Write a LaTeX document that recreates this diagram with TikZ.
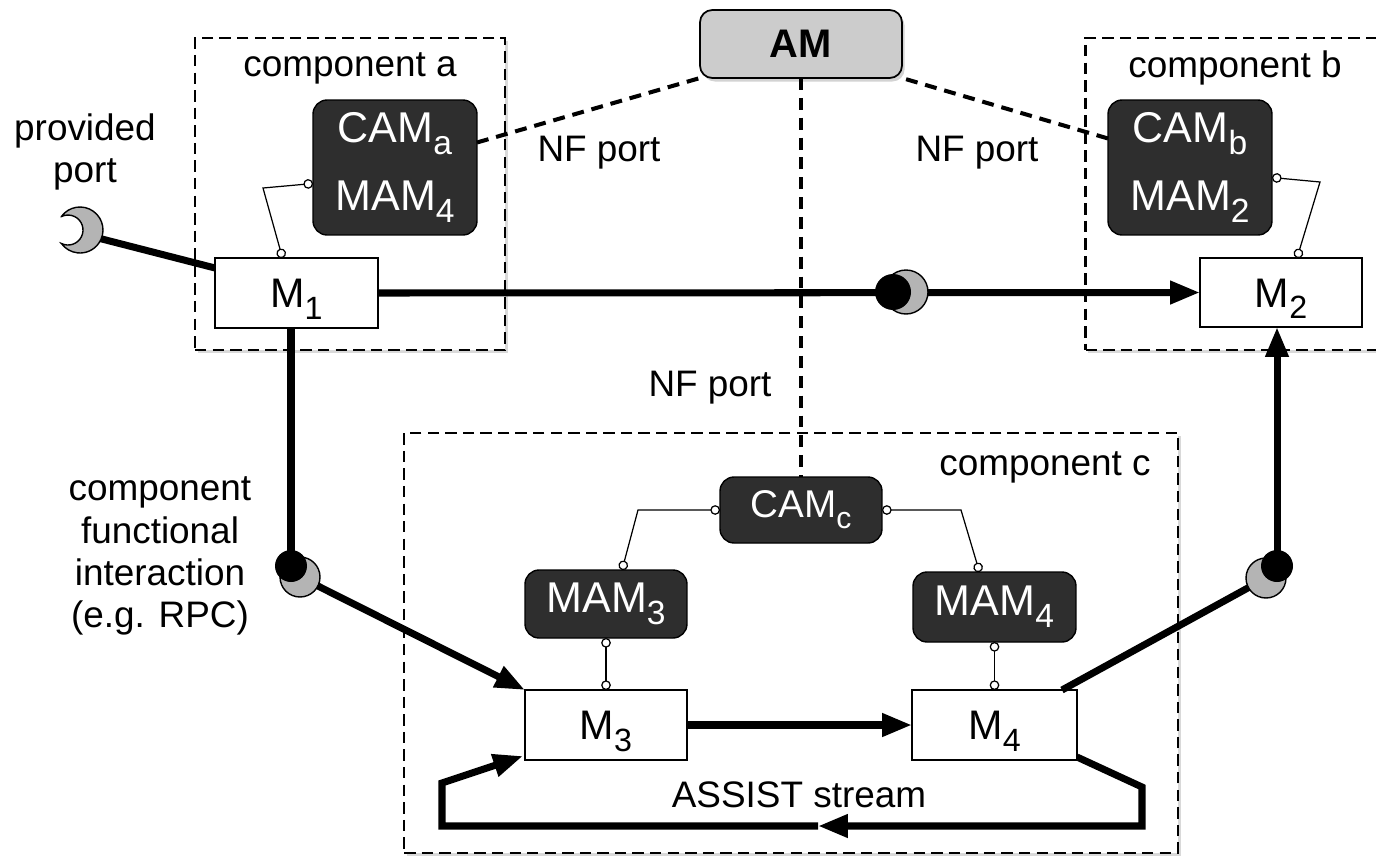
\documentclass[tikz,border=0pt]{standalone}
\usepackage{fontspec}
\setmainfont{Liberation Sans}
\usetikzlibrary{arrows.meta,calc,shadows}
\definecolor{darkfill}{HTML}{2E2E2E}
\definecolor{amfill}{HTML}{CCCCCC}
\definecolor{sockfill}{HTML}{B4B4B4}
\newcommand{\ssub}[1]{\raisebox{-0.28em}{\scalebox{0.78}{#1}}}
\begin{document}
\begin{tikzpicture}[x=0.02cm,y=-0.02cm,
  lbl/.style={font=\fontsize{21}{24}\selectfont, align=center, inner sep=0pt},
  compbox/.style={draw, dash pattern=on 6.5pt off 3.5pt, line width=1.3pt, fill=white,
    drop shadow={shadow xshift=1.5pt, shadow yshift=-1.5pt, opacity=0.3}, inner sep=0pt, outer sep=0pt},
  darkbox/.style={draw=black, fill=darkfill, rounded corners=8pt, text=white,
    font=\fontsize{24.5}{39}\selectfont, align=center, inner sep=0pt, outer sep=0pt, line width=0.8pt},
  modbox/.style={draw, fill=white, line width=0.9pt, font=\fontsize{23.5}{26}\selectfont,
    inner sep=0pt, outer sep=0pt, text height=16.8pt, text depth=0pt},
  amstyle/.style={draw, fill=amfill, rounded corners=7pt, line width=1pt,
    font=\fontsize{22.7}{26}\selectfont\bfseries, inner sep=0pt, outer sep=0pt,
    drop shadow={shadow xshift=1.5pt, shadow yshift=-2pt, opacity=0.35}},
  thk/.style={line width=4pt},
  thkarrow/.style={line width=4pt, -{Triangle[length=17pt,width=12.5pt]}},
  smallc/.style={line width=0.7pt, {Circle[length=5.5pt,width=5.5pt,fill=white]}-{Circle[length=5.5pt,width=5.5pt,fill=white]}},
  nfline/.style={line width=2.3pt, dash pattern=on 6.8pt off 4.5pt},
  sock/.style={draw=black, fill=sockfill, line width=0.8pt},
]
\useasboundingbox (0,0) rectangle (1376,859);
\clip (0,0) rectangle (1376,859);

% components
\node[compbox, minimum width=6.2cm, minimum height=6.24cm] (compA) at (350,194) {};
\node[compbox, minimum width=6.3cm, minimum height=6.24cm] (compB) at (1243,194) {};
\node[compbox, minimum width=15.48cm, minimum height=8.4cm] (compC) at (791,643) {};

% labels
\node[lbl] (la) at (350,68) {component a};
\node[lbl] (lb) at (1235,68) {component b};
\node[lbl] (lc) at (1045,467) {component c};
\node[lbl] (ppl) at (85,152) {provided\\port};
\node[lbl] (cfi) at (160,556) {component\\functional\\interaction\\(e.g. RPC)};
\node[lbl] (nf1) at (599,153) {NF port};
\node[lbl] (nf2) at (977,153) {NF port};
\node[lbl] (nf3) at (710,388) {NF port};
\node[lbl] (as) at (799,795) {ASSIST stream};

% boxes
\node[amstyle, minimum width=4.04cm, minimum height=1.36cm] (AM) at (801,44) {AM};
\node[darkbox, minimum width=3.28cm, minimum height=2.7cm] (camA) at (395,167.5) {CAM\ssub{a}\\MAM\ssub{4}};
\node[darkbox, minimum width=3.28cm, minimum height=2.7cm] (camB) at (1190,167.5) {CAM\ssub{b}\\MAM\ssub{2}};
\node[darkbox, font=\fontsize{22}{26}\selectfont, minimum width=3.24cm, minimum height=1.32cm] (camC) at (801,510) {CAM\ssub{c}};
\node[darkbox, minimum width=3.24cm, minimum height=1.36cm] (mam3) at (606,604) {MAM\ssub{3}};
\node[darkbox, minimum width=3.26cm, minimum height=1.4cm] (mam4) at (994.5,607) {MAM\ssub{4}};
\node[modbox, minimum width=3.26cm, minimum height=1.4cm] (M1) at (296.5,293) {M\ssub{1}};
\node[modbox, minimum width=3.24cm, minimum height=1.38cm] (M2) at (1281,292.5) {M\ssub{2}};
\node[modbox, minimum width=3.24cm, minimum height=1.4cm] (M3) at (606,725) {M\ssub{3}};
\node[modbox, minimum width=3.3cm, minimum height=1.4cm] (M4) at (994.5,725) {M\ssub{4}};

% coordinates
\coordinate (pp) at (80,230);
\coordinate (b1) at (893,292);
\coordinate (s1) at (906,292);
\coordinate (b2) at (291,566);
\coordinate (s2) at (300,577);
\coordinate (b3) at (1277,566);
\coordinate (s3) at (1266,578);
\coordinate (ka) at (263,188);
\coordinate (kb) at (1320,182);
\coordinate (k3) at (638,510);
\coordinate (k4) at (961,510);
\coordinate (l1) at (1142,787);
\coordinate (l2) at (1142,826);
\coordinate (lm) at (818,826);
\coordinate (l3) at (442,826);
\coordinate (l4) at (442,783);

% NF dashed lines
\draw[nfline] ($(camA.east)+(0,-25)$) -- (AM.south west);
\draw[nfline] ($(camB.west)+(0,-29)$) -- (AM.south east);
\draw[nfline] (AM.south) -- (camC.north);

% small connectors
\draw[smallc] ($(camA.west)+(0,16)$) -- (ka) -- ($(M1.north)+(-14,0)$);
\draw[smallc] ($(camB.east)+(0,10)$) -- (kb) -- ($(M2.north)+(16,0)$);
\draw[smallc] (camC.west) -- (k3) -- ($(mam3.north)+(16,0)$);
\draw[smallc] (camC.east) -- (k4) -- ($(mam4.north)+(-15,0)$);
\draw[smallc] (mam3.south) -- (M3.north);
\draw[smallc] (mam4.south) -- (M4.north);

% thick functional connectors
\draw[thk] ($(pp)+(18,8)$) -- ($(M1.west)+(0,-25)$);
\draw[thkarrow] (M1.east) -- (M2.west);
\draw[thk] (b2 |- M1.south) -- (b2);
\draw[thkarrow] (s2) -- (M3.north west);
\draw[thk] ($(M4.north east)+(-15,0)$) -- (s3);
\draw[thkarrow] (b3) -- (b3 |- M2.south);
\draw[thkarrow] (M3.east) -- (M4.west);
\draw[thkarrow] ($(M4.south east)+(0,-3)$) -- (l1) -- (l2) -- (lm);
\draw[thkarrow] (lm) -- (l3) -- (l4) -- ($(M3.south west)+(-2,-4)$);

% ball and socket symbols
\draw[sock] (s1) circle[radius=0.44cm];
\fill[black] (b1) circle[radius=0.36cm];
\draw[sock] (s2) circle[radius=0.4cm];
\fill[black] (b2) circle[radius=0.32cm];
\draw[sock] (s3) circle[radius=0.4cm];
\fill[black] (b3) circle[radius=0.32cm];
\draw[sock] (pp) ++(144.2:0.46cm) arc[start angle=144.2,end angle=-144.2,radius=0.46cm]
  arc[start angle=-116.4,end angle=116.4,radius=0.3cm] -- cycle;
\end{tikzpicture}
\end{document}
